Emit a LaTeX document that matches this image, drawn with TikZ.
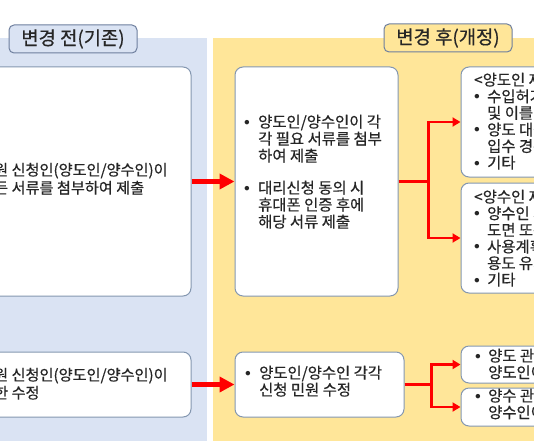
\documentclass[tikz,border=0pt]{standalone}
\usepackage{fontspec}
\usepackage{graphicx}
\setmainfont{Noto Sans CJK KR}[FakeBold=0.5]
\usetikzlibrary{arrows.meta}
\definecolor{panelblue}{HTML}{DAE3F3}
\definecolor{panelyellow}{HTML}{FFE699}
\definecolor{edgegray}{HTML}{8497B0}
\definecolor{titleedge}{HTML}{6E7F9E}
\definecolor{txtgray}{HTML}{262626}
\definecolor{arrowred}{HTML}{FF0000}
\newcommand\bitem[2]{\hangindent=#1\hangafter=1\noindent\makebox[#1][l]{\raisebox{0.16em}{\scalebox{0.8}{$\bullet$}}}#2\par}
\newcommand\lines[2]{\parbox[t]{#1}{\parindent=0pt\lineskiplimit=-10pt #2}}
\begin{document}
\begin{tikzpicture}[x=1pt,y=-1pt,
  box/.style={draw=edgegray, line width=1pt, fill=white, rounded corners=8pt, inner sep=0pt},
  titlebox/.style={draw=titleedge, line width=1pt, rounded corners=5pt, inner sep=0pt,
    minimum width=128pt, minimum height=28pt, font=\fontsize{18.8}{21}\selectfont, text=txtgray},
  txt/.style={font=\fontsize{15.2}{18}\selectfont, text=txtgray, inner sep=0pt, anchor=base west},
  mtxt/.style={font=\fontsize{15.4}{17}\selectfont, text=txtgray, inner sep=0pt, anchor=base west},
  rtxt/.style={font=\fontsize{15.4}{16.6}\selectfont, text=txtgray, inner sep=0pt, anchor=base west},
  bigarrow/.style={arrowred, line width=5pt, -{Triangle[length=15pt,width=15pt]}},
  branch/.style={arrowred, line width=2.8pt},
  brarrow/.style={branch, -{Triangle[length=8pt,width=9pt]}}]
\useasboundingbox (0,0) rectangle (534,441);
\clip (0,0) rectangle (534,441);
\fill[white] (0,0) rectangle (534,441);
\fill[panelblue] (0,38) rectangle (207,441);
\fill[panelyellow] (213,38) rectangle (534,441);

% titles
\node[titlebox, fill=panelblue] (tb) at (73,39) {변경 전(기존)};
\node[titlebox, fill=panelyellow] (ta) at (448,38) {변경 후(개정)};

% boxes
\node[box, minimum width=211pt, minimum height=229pt] (l1) at (85.5,181.5) {};
\node[box, minimum width=211pt, minimum height=65pt] (l2) at (85.5,384.5) {};
\node[box, minimum width=163pt, minimum height=229pt] (m1) at (316.5,181.5) {};
\node[box, minimum width=169pt, minimum height=65pt] (m2) at (319.5,384.5) {};
\node[box, minimum width=109pt, minimum height=110pt] (rA) at (515.5,122) {};
\node[box, minimum width=109pt, minimum height=110pt] (rB) at (515.5,238) {};
\node[box, minimum width=109pt, minimum height=37pt] (rC) at (515.5,364.5) {};
\node[box, minimum width=109pt, minimum height=38pt] (rD) at (515.5,407) {};

% texts
\node[txt] (tl1) at (-20,175.5) {\lines{260pt}{민원 신청인(양도인/양수인)이\\모든 서류를 첨부하여 제출}};
\node[txt] (tl2) at (-20,380.5) {\lines{260pt}{민원 신청인(양도인/양수인)이\\대한 수정}};
\node[mtxt] (tm1) at (244,127.5) {\lines{200pt}{%
\bitem{14pt}{양도인/양수인이 각\\각 필요 서류를 첨부\\하여 제출}
\vspace{15pt}
\bitem{14pt}{대리신청 동의 시\\휴대폰 인증 후에\\해당 서류 제출}}};
\node[mtxt] (tm2) at (245,378.5) {\lines{200pt}{%
\bitem{14pt}{양도인/양수인 각각\\신청 민원 수정}}};
\node[rtxt] (trA) at (474,85.5) {\lines{200pt}{%
\noindent<양도인 제출서류>\par
\bitem{13pt}{수입허가증 사본\\및 이를 증명하는 서류}
\bitem{13pt}{양도 대상 물품의\\입수 경위서}
\bitem{13pt}{기타}}};
\node[rtxt] (trB) at (474,202.5) {\lines{200pt}{%
\noindent<양수인 제출서류>\par
\bitem{13pt}{양수인 시설의\\도면 또는 사진}
\bitem{13pt}{사용계획서 및\\용도 유지 서약서}
\bitem{13pt}{기타}}};
\node[rtxt] (trC) at (475,361.5) {\lines{200pt}{%
\bitem{13pt}{양도 관련 정보는\\양도인이 수정}}};
\node[rtxt] (trD) at (475,401.5) {\lines{200pt}{%
\bitem{13pt}{양수 관련 정보는\\양수인이 수정}}};

% connectors
\draw[bigarrow] (l1.east) -- (m1.west);
\draw[bigarrow] (l2.east) -- (m2.west);
\draw[branch] (m1.east) -- ++(30,0) coordinate (j1);
\draw[brarrow] (j1) |- (rA.west);
\draw[brarrow] (j1) |- (rB.west);
\draw[branch] (m2.east) -- ++(27,0) coordinate (j2);
\draw[brarrow] (j2) |- (rC.west);
\draw[brarrow] (j2) |- (rD.west);
\end{tikzpicture}
\end{document}
